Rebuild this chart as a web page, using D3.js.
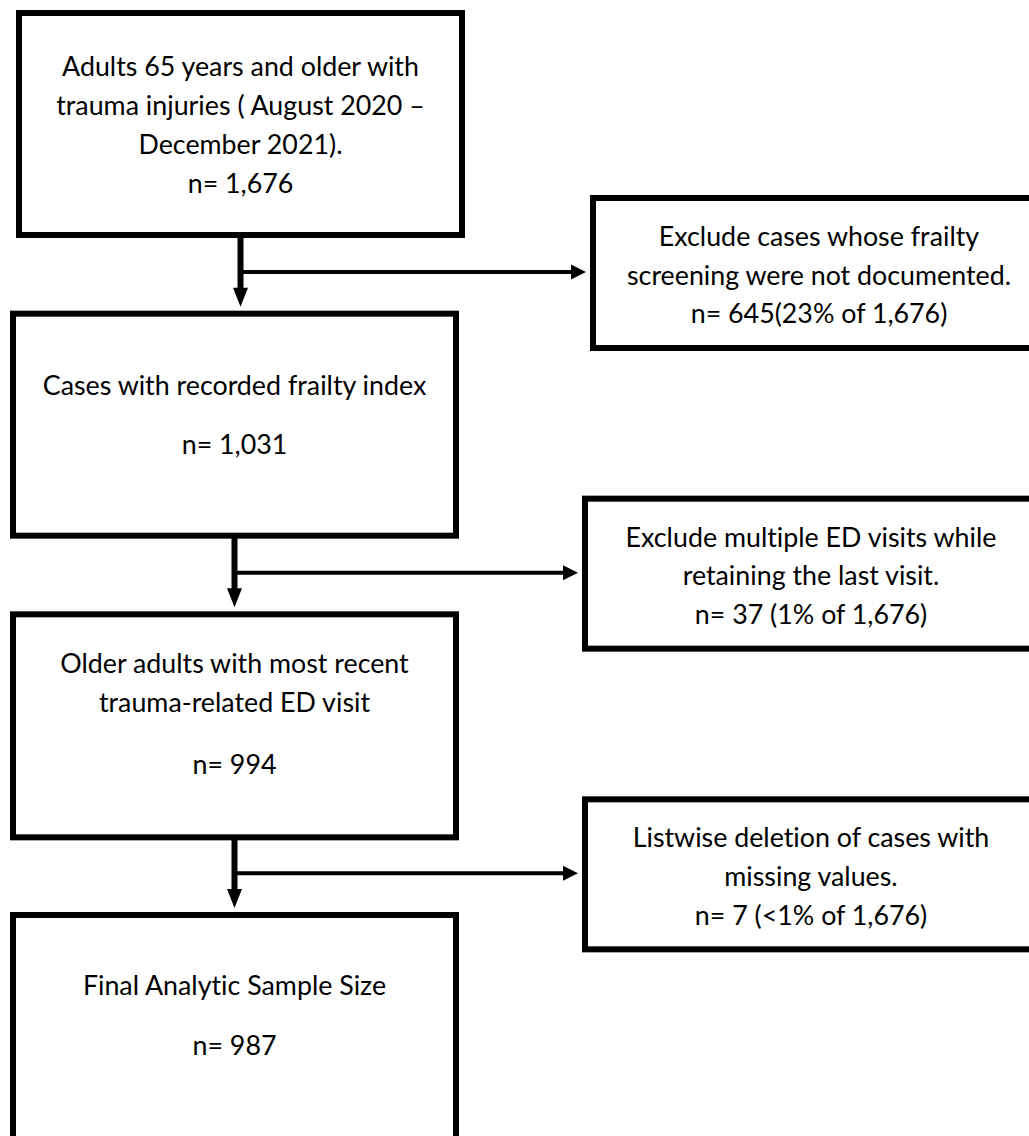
<!DOCTYPE html>
<html>
<head>
<meta charset="utf-8">
<script src="https://cdn.jsdelivr.net/npm/d3@7"></script>
<style>
  html, body { margin: 0; padding: 0; background: #fff; }
  svg { display: block; }
  text { font-family: Lato, "Open Sans", sans-serif; fill: #000; font-variant-ligatures: none; font-feature-settings: "liga" 0, "dlig" 0; }
</style>
</head>
<body>
<svg id="chart" width="1029" height="1136"></svg>
<script>
// ---- data ----
const stepLabels = [
  ["Adults 65 years and older with", "trauma injuries ( August 2020 \u2013", "December 2021)."],
  ["Cases with recorded frailty index"],
  ["Older adults with most recent", "trauma-related ED visit"],
  ["Final Analytic Sample Size"]
];
const stepCounts = ["1,676", "1,031", "994", "987"];
const exclusionLabels = [
  ["Exclude cases whose frailty", "screening were not documented."],
  ["Exclude multiple ED visits while", "retaining the last visit."],
  ["Listwise deletion of cases with", "missing values."]
];
const exclusionCounts = ["645(23% of 1,676)", "37 (1% of 1,676)", "7 (<1% of 1,676)"];

// ---- layout ----
const svg = d3.select("#chart");
const FS = 26.8;
const LH = 39;
const bw = 6;               // box border
const mainW = 449;
const mainH = [228, 228, 229, 260];
const exW = 470, exH = 156;

const yStep = d3.scaleLinear().domain([0, 3]).range([10, 912]);
const mainLeft = i => (i === 0 ? 16 : 10);
const exLeft = i => (i === 0 ? 590 : 582);

// first baseline offset / gap between label and count, per main box
const mainFirst = [66, 84, 62, 83];
const mainCountGap = [39, 59, 62, 60];

const g = svg.append("g");

function downHead(x, tipY) {
  return `M${x - 7.5},${tipY - 19} L${x + 7.5},${tipY - 19} L${x},${tipY} Z`;
}
function rightHead(tipX, y) {
  return `M${tipX - 15},${y - 7.5} L${tipX - 15},${y + 7.5} L${tipX},${y} Z`;
}

// main boxes
stepLabels.forEach((lines, i) => {
  const x0 = mainLeft(i), y0 = yStep(i);
  g.append("rect")
    .attr("x", x0 + bw / 2).attr("y", y0 + bw / 2)
    .attr("width", mainW - bw).attr("height", mainH[i] - bw)
    .attr("fill", "#fff").attr("stroke", "#000").attr("stroke-width", bw);
  const cx = x0 + mainW / 2;
  const t = g.append("text").attr("text-anchor", "middle").attr("font-size", FS);
  lines.forEach((ln, k) => {
    t.append("tspan").attr("x", cx).attr("y", y0 + mainFirst[i] + k * LH).text(ln);
  });
  t.append("tspan").attr("x", cx)
    .attr("y", y0 + mainFirst[i] + (lines.length - 1) * LH + mainCountGap[i])
    .text("n= " + stepCounts[i]);
});

// exclusion boxes and connectors
exclusionLabels.forEach((lines, i) => {
  const top = yStep(i) + 185;
  const x0 = exLeft(i);
  const tx = x0 + 229;
  g.append("rect")
    .attr("x", x0 + bw / 2).attr("y", top + bw / 2)
    .attr("width", exW - bw).attr("height", exH - bw)
    .attr("fill", "#fff").attr("stroke", "#000").attr("stroke-width", bw);
  const t = g.append("text").attr("text-anchor", "middle").attr("font-size", FS);
  lines.forEach((ln, k) => {
    t.append("tspan").attr("x", tx).attr("y", top + 51 + k * 38.7).text(ln);
  });
  t.append("tspan").attr("x", tx).attr("y", top + 51 + lines.length * 38.7)
    .text("n= " + exclusionCounts[i]);

  // vertical connector
  const cx = mainLeft(i) + mainW / 2;
  const yBottom = yStep(i) + mainH[i];
  const nextTop = yStep(i + 1);
  g.append("line")
    .attr("x1", cx).attr("x2", cx)
    .attr("y1", yBottom - 1).attr("y2", nextTop - 20)
    .attr("stroke", "#000").attr("stroke-width", 6);
  g.append("path").attr("d", downHead(cx, nextTop - 4)).attr("fill", "#000");

  // horizontal connector
  const hy = yStep(i) + 262;
  const tipX = x0 - 4;
  g.append("line")
    .attr("x1", cx).attr("x2", tipX - 14)
    .attr("y1", hy).attr("y2", hy)
    .attr("stroke", "#000").attr("stroke-width", 4);
  g.append("path").attr("d", rightHead(tipX, hy)).attr("fill", "#000");
});
</script>
</body>
</html>
